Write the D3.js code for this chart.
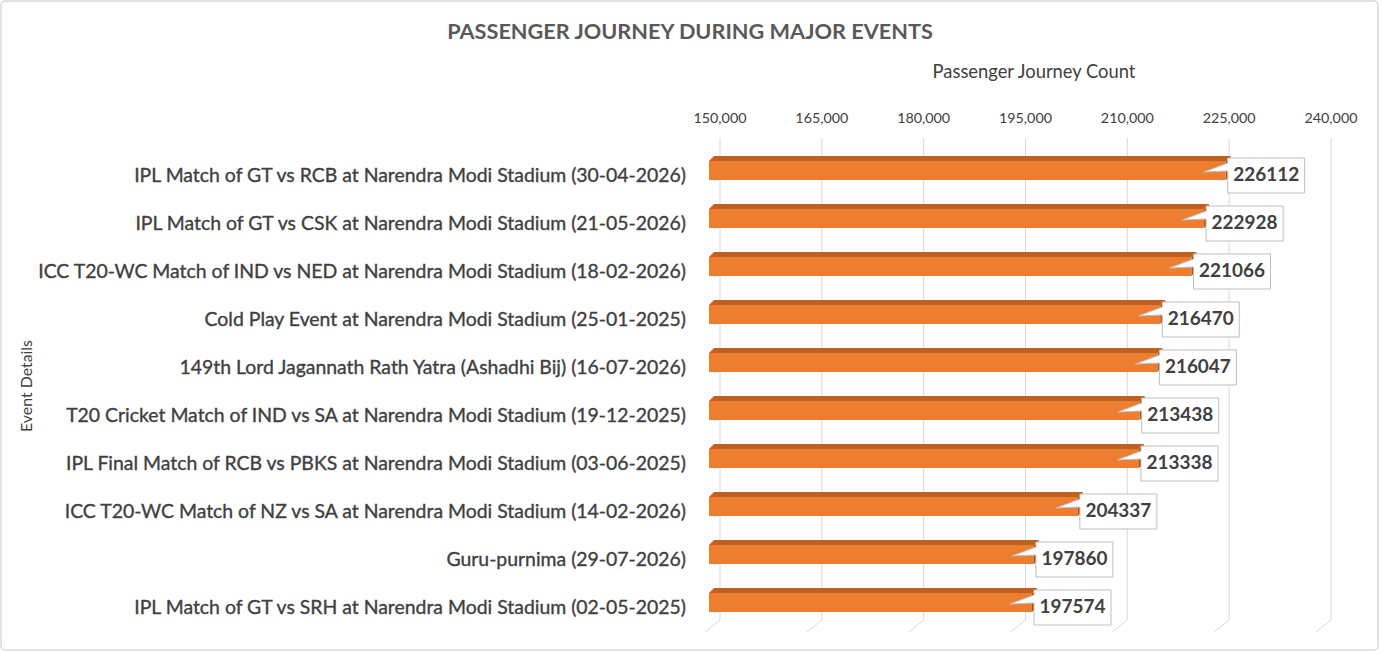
<!DOCTYPE html>
<html>
<head>
<meta charset="utf-8">
<script src="https://cdn.jsdelivr.net/npm/d3@7"></script>
<style>
  html, body { margin: 0; padding: 0; background: #fff; }
  svg { display: block; }
  text { font-family: "Lato", "Open Sans", "Liberation Sans", sans-serif; }
</style>
</head>
<body>
<svg id="chart" width="1380" height="652"></svg>
<script>
const categories = [
  "IPL Match of GT vs RCB at Narendra Modi Stadium (30-04-2026)",
  "IPL Match of GT vs CSK at Narendra Modi Stadium (21-05-2026)",
  "ICC T20-WC Match of IND vs NED at Narendra Modi Stadium (18-02-2026)",
  "Cold Play Event at Narendra Modi Stadium (25-01-2025)",
  "149th Lord Jagannath Rath Yatra (Ashadhi Bij) (16-07-2026)",
  "T20 Cricket Match of IND vs SA at Narendra Modi Stadium (19-12-2025)",
  "IPL Final Match of RCB vs PBKS at Narendra Modi Stadium (03-06-2025)",
  "ICC T20-WC Match of NZ vs SA at Narendra Modi Stadium (14-02-2026)",
  "Guru-purnima (29-07-2026)",
  "IPL Match of GT vs SRH at Narendra Modi Stadium (02-05-2025)"
];
const values = [226112, 222928, 221066, 216470, 216047, 213438, 213338, 204337, 197860, 197574];
const xTicks = [150000, 165000, 180000, 195000, 210000, 225000, 240000];
const titleText = "PASSENGER JOURNEY DURING MAJOR EVENTS";
const xAxisTitle = "Passenger Journey Count";
const yAxisTitle = "Event Details";

const svg = d3.select("#chart");

function fitWidth(sel, baseSize, target) {
  sel.style("font-size", baseSize + "px");
  const w = sel.node().getComputedTextLength();
  sel.style("font-size", (baseSize * target / w) + "px");
}

// chart border
svg.append("rect").attr("x", 1).attr("y", 1).attr("width", 1377).attr("height", 649)
  .attr("rx", 4).attr("fill", "#fff").attr("stroke", "#d9d9d9").attr("stroke-width", 1.5);

// scales: back wall and front plane (3D offset)
const xBack = d3.scaleLinear().domain([150000, 240000]).range([720, 1331]);
const frontDX = -11;
const depthDX = 5, depthDY = -5;
const xFront = v => xBack(v) + frontDX;

const y = d3.scaleBand().domain(categories).range([146.5, 626.5]).paddingInner(0.6).paddingOuter(0.3);
const bandCenter = c => y(c) + y.bandwidth() / 2;
const faceH = 19;

// gridlines with floor diagonal
const gridTop = 138, gridBottom = 620;
svg.append("g").selectAll("path").data(xTicks).join("path")
  .attr("d", t => `M${xBack(t)},${gridTop} V${gridBottom} L${xBack(t) - 15},${gridBottom + 12}`)
  .attr("fill", "none").attr("stroke", "#d9d9d9").attr("stroke-width", 1);

// top axis labels
const fmt = d3.format(",");
const tickLabels = svg.append("g").selectAll("text").data(xTicks).join("text")
  .attr("x", t => xBack(t)).attr("y", 123)
  .attr("text-anchor", "middle").attr("fill", "#404040")
  .text(t => fmt(t));
fitWidth(tickLabels, 14, 53);

// titles
const title = svg.append("text").attr("x", 690).attr("y", 39).attr("text-anchor", "middle")
  .attr("fill", "#595959").style("font-weight", 700)
  .text(titleText);
fitWidth(title, 22, 486);
const xt = svg.append("text").attr("x", 1034).attr("y", 78).attr("text-anchor", "middle")
  .attr("fill", "#404040").text(xAxisTitle);
fitWidth(xt, 16, 203);
const yt = svg.append("text").attr("transform", "translate(32,386) rotate(-90)").attr("text-anchor", "middle")
  .attr("fill", "#404040").text(yAxisTitle);
fitWidth(yt, 15, 92);

// category labels
const catLabels = svg.append("g").selectAll("text").data(categories).join("text")
  .attr("x", 686).attr("y", c => bandCenter(c) + 7)
  .attr("dominant-baseline", "middle")
  .attr("text-anchor", "end").attr("fill", "#404040")
  .attr("stroke", "#404040").attr("stroke-width", 0.35)
  .text(c => c);
fitWidth(catLabels, 18, 552);

// bars
const bars = svg.append("g");
categories.forEach((c, i) => {
  const v = values[i];
  const x0 = xFront(150000), x1 = xFront(v);
  const yTop = bandCenter(c) - faceH / 2, yBot = yTop + faceH;
  const g = bars.append("g");
  g.append("path")
    .attr("d", `M${x0},${yTop} L${x0 + depthDX},${yTop + depthDY} L${x1 + depthDX},${yTop + depthDY} L${x1},${yTop} Z`)
    .attr("fill", "#c0601f");
  g.append("path")
    .attr("d", `M${x1},${yTop} L${x1 + depthDX},${yTop + depthDY} L${x1 + depthDX},${yBot + depthDY} L${x1},${yBot} Z`)
    .attr("fill", "#a44f16");
  g.append("rect").attr("x", x0).attr("y", yTop).attr("width", x1 - x0).attr("height", faceH)
    .attr("fill", "#ed7d31");
});

// data label callouts
const labels = svg.append("g");
categories.forEach((c, i) => {
  const v = values[i];
  const x1 = xFront(v);
  const yTop = bandCenter(c) - faceH / 2;
  const bx = x1 + 2, by = yTop - 3, bw = 77, bh = 35;
  const ax = x1 - 22, ay = yTop + 11;
  labels.append("path")
    .attr("d", `M${bx},${by} H${bx + bw} V${by + bh} H${bx} V${by + 13} L${ax},${ay} L${bx},${by + 5} Z`)
    .attr("fill", "#fff").attr("stroke", "#bfbfbf").attr("stroke-width", 1);
  labels.append("text").attr("x", bx + bw / 2).attr("y", by + bh / 2 + 1)
    .attr("text-anchor", "middle").attr("dominant-baseline", "middle")
    .attr("fill", "#404040").style("font-weight", 700)
    .attr("class", "val")
    .text(v);
});
fitWidth(labels.selectAll("text.val"), 20, 66);
</script>
</body>
</html>
